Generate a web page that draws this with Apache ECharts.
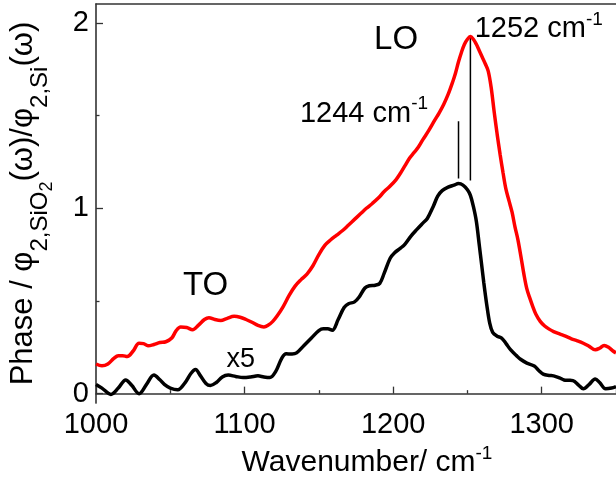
<!DOCTYPE html>
<html>
<head>
<meta charset="utf-8">
<script src="https://cdn.jsdelivr.net/npm/echarts@6/dist/echarts.min.js"></script>
<style>
  html, body { margin: 0; padding: 0; background: #fff; }
  #chart { width: 616px; height: 483px; }
</style>
</head>
<body>
<div id="chart"></div>
<script>
// Axis ranges and tick values
const xMin = 1000, xMax = 1350, xTickStep = 100;
const yMin = -0.051, yMax = 2.102;
const yLabelValues = [0, 1, 2];
const yMinorValues = [0.5, 1.5];

// Black curve (scaled x5): wavenumber (cm^-1) and phase ratio
const blackWavenumber = [1000, 1004, 1010, 1015, 1020, 1024, 1029, 1034, 1039, 1043, 1046, 1050, 1055, 1060, 1064, 1067, 1070, 1074, 1077, 1081, 1085, 1089, 1094, 1099, 1104, 1109, 1113, 1117, 1121, 1125, 1128, 1132, 1135, 1140, 1145, 1150, 1153, 1156, 1159, 1163, 1167, 1170, 1174, 1177, 1181, 1184, 1188, 1191, 1194, 1198, 1201, 1205, 1208, 1212, 1216, 1220, 1223, 1227, 1230, 1233, 1237, 1241, 1244, 1247, 1250, 1252, 1254, 1256, 1258, 1259.5, 1261, 1263, 1265, 1267, 1270, 1273, 1276, 1279, 1283, 1286, 1290, 1295, 1298, 1301, 1305, 1308, 1312, 1315, 1318, 1321, 1325, 1328, 1332, 1336, 1339, 1343, 1347, 1350];
const blackPhase = [0.05, 0.03, -0.004, 0.03, 0.074, 0.045, 0.0, 0.05, 0.10, 0.075, 0.05, 0.03, 0.021, 0.06, 0.11, 0.13, 0.10, 0.055, 0.044, 0.06, 0.09, 0.10, 0.093, 0.087, 0.09, 0.096, 0.09, 0.087, 0.12, 0.19, 0.215, 0.214, 0.22, 0.26, 0.30, 0.34, 0.35, 0.35, 0.342, 0.40, 0.465, 0.485, 0.495, 0.52, 0.57, 0.582, 0.585, 0.595, 0.65, 0.73, 0.76, 0.785, 0.807, 0.85, 0.886, 0.92, 0.945, 1.01, 1.065, 1.095, 1.114, 1.125, 1.133, 1.125, 1.10, 1.07, 1.01, 0.93, 0.80, 0.70, 0.60, 0.48, 0.38, 0.33, 0.31, 0.30, 0.27, 0.237, 0.205, 0.184, 0.165, 0.149, 0.125, 0.105, 0.098, 0.096, 0.085, 0.074, 0.072, 0.07, 0.045, 0.026, 0.05, 0.079, 0.06, 0.026, 0.03, 0.038];

// Red curve: wavenumber (cm^-1) and phase ratio
const redWavenumber = [1000, 1004, 1008, 1012, 1015, 1018, 1021, 1025, 1029, 1032, 1035, 1039, 1043, 1047, 1051, 1054, 1057, 1061, 1065, 1069, 1073, 1076, 1080, 1084, 1088, 1093, 1097, 1101, 1105, 1109, 1113, 1116, 1119, 1122, 1126, 1130, 1134, 1138, 1142, 1146, 1150, 1154, 1158, 1162, 1166, 1170, 1174, 1178, 1182, 1186, 1190, 1194, 1198, 1202, 1205, 1208, 1211, 1214, 1217, 1220, 1224, 1228, 1231, 1234, 1237, 1240, 1242, 1244, 1246, 1248, 1250, 1252, 1254, 1256, 1258, 1260, 1262, 1264, 1266, 1268, 1270, 1272, 1274, 1276, 1278, 1280, 1282, 1284, 1286, 1288, 1290, 1292, 1294, 1296, 1299, 1302, 1305, 1308, 1312, 1316, 1320, 1324, 1328, 1332, 1336, 1339, 1342, 1345, 1348, 1350];
const redPhase = [0.16, 0.15, 0.16, 0.19, 0.205, 0.205, 0.20, 0.23, 0.272, 0.27, 0.258, 0.265, 0.276, 0.28, 0.30, 0.34, 0.36, 0.357, 0.345, 0.37, 0.40, 0.41, 0.40, 0.395, 0.405, 0.417, 0.412, 0.40, 0.385, 0.368, 0.36, 0.37, 0.39, 0.42, 0.47, 0.53, 0.58, 0.615, 0.645, 0.69, 0.75, 0.80, 0.83, 0.855, 0.88, 0.91, 0.94, 0.97, 1.00, 1.026, 1.055, 1.09, 1.12, 1.155, 1.19, 1.23, 1.27, 1.30, 1.33, 1.37, 1.42, 1.475, 1.515, 1.56, 1.614, 1.68, 1.73, 1.79, 1.842, 1.885, 1.912, 1.926, 1.912, 1.885, 1.85, 1.815, 1.78, 1.74, 1.65, 1.52, 1.40, 1.29, 1.19, 1.10, 1.04, 0.98, 0.90, 0.83, 0.74, 0.645, 0.565, 0.515, 0.47, 0.43, 0.39, 0.365, 0.348, 0.335, 0.322, 0.31, 0.296, 0.285, 0.272, 0.255, 0.237, 0.245, 0.26, 0.25, 0.23, 0.22];

// Peak marker lines: wavenumber, lower and upper phase
const peakLineWavenumber = [1244, 1252];
const peakLineLow = [1.16, 1.15];
const peakLineHigh = [1.47, 1.926];

// Text annotations placed in data coordinates
const annotationText = ['LO', 'TO', 'x5', '{n|1244 cm}{sup|-1}', '{n|1252 cm}{sup|-1}'];
const annotationWavenumber = [1202, 1073.8, 1097.4, 1137.3, 1254.9];
const annotationPhase = [1.91, 0.582, 0.186, 1.523, 1.978];

const FONT = '"Liberation Sans", Arial, sans-serif';
const AXIS_COLOR = '#333';

const zip = (xs, ys) => xs.map((x, i) => [x, ys[i]]);

const chart = echarts.init(document.getElementById('chart'), null, { renderer: 'canvas' });

const series = [
  {
    type: 'line', data: zip(redWavenumber, redPhase), smooth: 0.35,
    showSymbol: false, lineStyle: { color: '#ff0000', width: 3.5 }, z: 3
  },
  {
    type: 'line', data: zip(blackWavenumber, blackPhase), smooth: 0.35,
    showSymbol: false, lineStyle: { color: '#000000', width: 3.5 }, z: 3
  }
];
peakLineWavenumber.forEach((w, i) => {
  series.push({
    type: 'line', data: [[w, peakLineLow[i]], [w, peakLineHigh[i]]],
    showSymbol: false, lineStyle: { color: '#000', width: 1.5 }, z: 2
  });
});

chart.setOption({
  animation: false,
  grid: { left: 91, right: 0, top: 4, bottom: 70, containLabel: false },
  xAxis: [
    {
      type: 'value', min: xMin, max: xMax, interval: xTickStep,
      name: '{n|Wavenumber/ cm}{sup|-1}', nameLocation: 'middle', nameGap: 36,
      nameTextStyle: {
        padding: [0, 0, 0, 22],
        rich: {
          n: { fontFamily: FONT, fontSize: 30, color: '#000', lineHeight: 34, verticalAlign: 'bottom' },
          sup: { fontFamily: FONT, fontSize: 19, color: '#000', lineHeight: 34, verticalAlign: 'top' }
        }
      },
      axisLine: { lineStyle: { color: AXIS_COLOR, width: 1.6 } },
      axisTick: { inside: true, length: 7, lineStyle: { color: AXIS_COLOR, width: 1.3 } },
      minorTick: { show: true, splitNumber: 2, length: 3.5, lineStyle: { color: AXIS_COLOR, width: 1.3 } },
      axisLabel: { fontFamily: FONT, fontSize: 29, color: '#000', margin: 7, showMaxLabel: false, formatter: v => String(v) },
      splitLine: { show: false }
    },
    {
      type: 'value', position: 'top', min: xMin, max: xMax,
      axisLine: { show: true, onZero: false, lineStyle: { color: AXIS_COLOR, width: 1.6 } },
      axisTick: { show: false }, axisLabel: { show: false }, splitLine: { show: false }
    }
  ],
  yAxis: [
    {
      type: 'value', min: yMin, max: yMax,
      name: '{n|Phase / φ}{s|2,SiO}{ss|2}{n|(ω)/φ}{s|2,Si}{n|(ω)}',
      nameLocation: 'middle', nameRotate: 90, nameGap: 36,
      nameTextStyle: {
        rich: {
          n: { fontFamily: FONT, fontSize: 31, color: '#000', lineHeight: 52, verticalAlign: 'top' },
          s: { fontFamily: FONT, fontSize: 24, color: '#000', lineHeight: 24, verticalAlign: 'bottom', padding: [0, 0, 8, 0] },
          ss: { fontFamily: FONT, fontSize: 18, color: '#000', lineHeight: 18, verticalAlign: 'bottom', padding: [0, 0, 4, 0] }
        }
      },
      axisLine: { show: true, onZero: false, lineStyle: { color: AXIS_COLOR, width: 1.6 } },
      axisTick: { inside: true, length: 7, customValues: yLabelValues, lineStyle: { color: AXIS_COLOR, width: 1.3 } },
      axisLabel: { fontFamily: FONT, fontSize: 29, color: '#000', margin: 7, customValues: yLabelValues, formatter: v => String(v) },
      splitLine: { show: false }
    },
    {
      type: 'value', min: yMin, max: yMax, position: 'left',
      axisLine: { show: false },
      axisTick: { show: true, inside: true, length: 3.5, customValues: yMinorValues, lineStyle: { color: AXIS_COLOR, width: 1.3 } },
      axisLabel: { show: false }, splitLine: { show: false }
    }
  ],
  series: series
});

// Text annotations, positioned from data coordinates
const richLabel = {
  n: { fontFamily: FONT, fontSize: 29, fill: '#000', lineHeight: 34, verticalAlign: 'bottom' },
  sup: { fontFamily: FONT, fontSize: 19, fill: '#000', lineHeight: 34, verticalAlign: 'top' }
};
const sizes = [33, 33, 27, 29, 29];
const aligns = ['center', 'center', 'center', 'left', 'left'];
const graphics = annotationText.map((t, i) => {
  const p = chart.convertToPixel({ xAxisIndex: 0, yAxisIndex: 0 }, [annotationWavenumber[i], annotationPhase[i]]);
  return {
    type: 'text', x: p[0], y: p[1], z: 10,
    style: {
      text: t, fontFamily: FONT, fontSize: sizes[i], fill: '#000',
      align: aligns[i], verticalAlign: 'middle',
      rich: t.indexOf('{') >= 0 ? richLabel : undefined
    }
  };
});
chart.setOption({ graphic: graphics });
</script>
</body>
</html>
